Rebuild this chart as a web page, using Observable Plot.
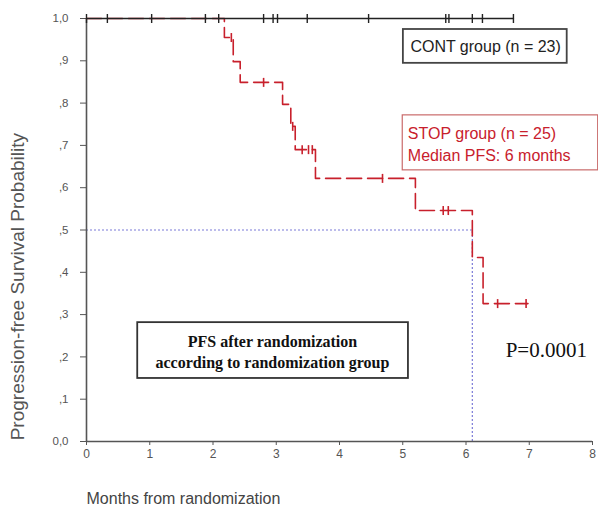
<!DOCTYPE html>
<html>
<head>
<meta charset="utf-8">
<script src="https://cdn.jsdelivr.net/npm/d3@7"></script>
<script src="https://cdn.jsdelivr.net/npm/@observablehq/plot@0.6"></script>
<style>
  html, body { margin: 0; padding: 0; background: #fff; }
  #chart svg { display: block; }
</style>
</head>
<body>
<div id="chart"></div>
<script>
// ---- Data ----
const xTicks = [0, 1, 2, 3, 4, 5, 6, 7, 8];
const xTickLabels = ["0", "1", "2", "3", "4", "5", "6", "7", "8"];
const yTicks = [0, 0.1, 0.2, 0.3, 0.4, 0.5, 0.6, 0.7, 0.8, 0.9, 1.0];
const yTickLabels = ["0,0", ",1", ",2", ",3", ",4", ",5", ",6", ",7", ",8", ",9", "1,0"];

// CONT group (n = 23): no events, survival stays at 1.0
const contTimes = [0, 6.75];
const contSurv = [1, 1];
const contCensorTimes = [0, 0.33, 1.03, 1.88, 2.09, 2.8, 2.95, 3.02, 3.49, 4.46, 5.68, 5.73, 6.1, 6.26, 6.75];

// STOP group (n = 25): Kaplan-Meier steps
const stopTimes = [0, 2.18, 2.32, 2.43, 3.10, 3.23, 3.30, 3.62, 5.20, 6.10, 6.27, 6.98];
const stopSurv  = [1, 0.955, 0.898, 0.849, 0.797, 0.745, 0.690, 0.622, 0.546, 0.435, 0.326, 0.326];
const stopCensorTimes = [2.29, 2.80, 3.26, 3.41, 3.51, 3.57, 4.68, 5.64, 5.72, 6.50, 6.95];
const stopCensorSurv  = [0.955, 0.849, 0.745, 0.690, 0.690, 0.690, 0.622, 0.546, 0.546, 0.326, 0.326];

// Median PFS guide
const medianTime = 6.1;
const medianSurv = 0.5;

// Texts
const yTitle = "Progression-free Survival Probability";
const xTitle = "Months from randomization";
const contLabel = "CONT group (n = 23)";
const stopLabel = "STOP group (n = 25)\nMedian PFS: 6 months";
const pfsLabel = "PFS after randomization\naccording to randomization group";
const pLabel = "P=0.0001";

// ---- Build tables ----
const contLine = contTimes.map((t, i) => ({t, s: contSurv[i]}));
const contCens = contCensorTimes.map(t => ({t, s: 1}));
const stopLine = stopTimes.map((t, i) => ({t, s: stopSurv[i]}));
const stopCens = stopCensorTimes.map((t, i) => ({t, s: stopCensorSurv[i]}));

const RED = "#c8202c";
const SANS = "Liberation Sans, Arial, Helvetica, sans-serif";
const SERIF = "Liberation Serif, Times New Roman, serif";

// vertical-bar censor symbol
const vbar = {
  draw(ctx, size) {
    const h = 4.5;
    ctx.moveTo(0, -h);
    ctx.lineTo(0, h);
  }
};

const plot = Plot.plot({
  width: 598,
  height: 512,
  marginLeft: 86,
  marginRight: 6,
  marginTop: 18,
  marginBottom: 71,
  style: {fontFamily: SANS, background: "#fff", overflow: "visible"},
  x: {domain: [0, 8]},
  y: {domain: [0, 1]},
  marks: [
    // annotation boxes (behind data)
    Plot.rect([{x1: 0.81, x2: 5.09, y1: 0.149, y2: 0.281}], {x1: "x1", x2: "x2", y1: "y1", y2: "y2", fill: "#fff", stroke: "#333", strokeWidth: 1.8}),
    Plot.rect([{x1: 5.01, x2: 7.60, y1: 0.894, y2: 0.974}], {x1: "x1", x2: "x2", y1: "y1", y2: "y2", fill: "#fff", stroke: "#444", strokeWidth: 1.8}),
    Plot.rect([{x1: 5.0, x2: 8.09, y1: 0.641, y2: 0.771}], {x1: "x1", x2: "x2", y1: "y1", y2: "y2", fill: "#fff", stroke: "#c96a6a", strokeWidth: 1.2}),

    // median guides
    Plot.ruleY([medianSurv], {x1: 0, x2: medianTime, stroke: "#7b7bd8", strokeWidth: 1.2, strokeDasharray: "2,2"}),
    Plot.ruleX([medianTime], {y1: 0, y2: medianSurv, stroke: "#7b7bd8", strokeWidth: 1.2, strokeDasharray: "2,2"}),

    // axes
    Plot.axisX({ticks: xTicks, tickFormat: d => xTickLabels[xTicks.indexOf(d)], tickSize: 4, tickPadding: 4, fontSize: 12, color: "#555", label: null}),
    Plot.axisY({ticks: yTicks, tickFormat: d => yTickLabels[yTicks.indexOf(d)], tickSize: 6, tickPadding: 12, fontSize: 11.5, color: "#555", label: null}),
    Plot.ruleX([0], {y1: 0, y2: 1, stroke: "#555", strokeWidth: 1.6}),
    Plot.ruleY([0], {x1: 0, x2: 8, stroke: "#555", strokeWidth: 1.6}),

    // STOP group curve
    Plot.line(stopLine, {x: "t", y: "s", curve: "step-after", stroke: RED, strokeWidth: 1.6, strokeDasharray: "15,6"}),
    Plot.dot(stopCens, {x: "t", y: "s", symbol: vbar, r: 3, stroke: RED, strokeWidth: 1.6, fill: "none"}),

    // CONT group curve
    Plot.line(contLine, {x: "t", y: "s", stroke: "#222", strokeWidth: 1.4}),
    Plot.dot(contCens, {x: "t", y: "s", symbol: vbar, r: 3, stroke: "#222", strokeWidth: 1.4, fill: "none"}),

    // annotation texts
    Plot.text([contLabel], {x: 6.31, y: 0.934, text: d => d, fontSize: 16, fill: "#222"}),
    Plot.text([stopLabel], {x: 5.08, y: 0.705, text: d => d, fontSize: 16, fill: RED, textAnchor: "start", lineHeight: 1.35}),
    Plot.text([pfsLabel], {x: 2.94, y: 0.215, text: d => d, fontSize: 16, fontWeight: "bold", fontFamily: SERIF, fill: "#111", lineHeight: 1.35}),
    Plot.text([pLabel], {x: 7.27, y: 0.215, text: d => d, fontSize: 21, fontFamily: SERIF, fill: "#111"}),

    // axis titles
    Plot.text([yTitle], {y: 0.366, frameAnchor: "left", dx: -69, rotate: -90, textAnchor: "middle", text: d => d, fontSize: 19, fill: "#555"}),
    Plot.text([xTitle], {x: 0, frameAnchor: "bottom", dy: 62, textAnchor: "start", text: d => d, fontSize: 16, fill: "#444"})
  ]
});

document.getElementById("chart").appendChild(plot);
</script>
</body>
</html>
